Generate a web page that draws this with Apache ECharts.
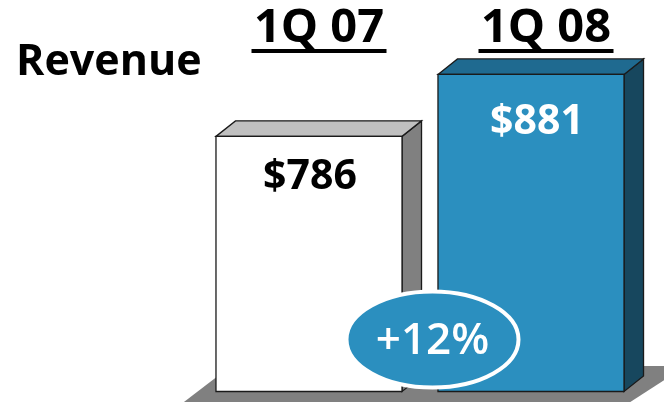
<!DOCTYPE html>
<html>
<head>
<meta charset="utf-8">
<script src="https://cdn.jsdelivr.net/npm/echarts@6/dist/echarts.min.js"></script>
<style>
html,body{margin:0;padding:0;background:#fff;}
#c{width:664px;height:402px;}
</style>
</head>
<body>
<div id="c"></div>
<script>
const categories = ['1Q 07', '1Q 08'];
const revenue = [786, 881];
const valueLabels = ['$786', '$881'];
const growthLabel = '+12%';
const title = 'Revenue';

const Y_MIN = 395, Y_MAX = 995;
const FONT = '"Open Sans", "Noto Sans", sans-serif';
const palette = [
  { front: '#ffffff', top: '#c0c0c0', side: '#808080', text: '#000000' },
  { front: '#2b8fbf', top: '#1f6a90', side: '#17475e', text: '#ffffff' }
];

const chart = echarts.init(document.getElementById('c'), null, { renderer: 'canvas' });

function renderBar(params, api) {
  const i = params.dataIndex;
  const top = api.coord([api.value(0), api.value(1)]);
  const base = api.coord([api.value(0), Y_MIN]);
  const bw = api.size([1, 0])[0] * 0.838;
  const l = top[0] - bw / 2, r = top[0] + bw / 2, t = top[1], b = base[1];
  const dx = 19.5, dy = -15.5;
  const c = palette[i];
  const edge = { stroke: '#1a1a1a', lineWidth: 1.3 };
  const children = [];
  if (i === 0) {
    children.push({
      type: 'polygon',
      shape: { points: [[l - 34, b + 12], [l + 15, b - 25.5], [l + 470, b - 25.5], [l + 412, b + 12]] },
      style: { fill: '#808080' }
    });
  }
  children.push(
    { type: 'polygon', shape: { points: [[r, t], [r + dx, t + dy], [r + dx, b + dy], [r, b]] },
      style: Object.assign({ fill: c.side }, edge) },
    { type: 'polygon', shape: { points: [[l, t], [l + dx, t + dy], [r + dx, t + dy], [r, t]] },
      style: Object.assign({ fill: c.top }, edge) },
    { type: 'rect', shape: { x: l, y: t, width: bw, height: b - t },
      style: Object.assign({ fill: c.front }, edge) },
    { type: 'text', x: top[0] + (i === 0 ? 1 : 6), y: t + (i === 0 ? 41 : 48),
      style: { text: valueLabels[i], fill: c.text, font: 'bold 41px ' + FONT, textAlign: 'center', textVerticalAlign: 'middle' } }
  );
  const hx = top[0] + (i === 0 ? 10 : 15);
  children.push(
    { type: 'text', x: hx, y: 29,
      style: { text: categories[i], fill: '#000', font: 'bold 47px ' + FONT, textAlign: 'center', textVerticalAlign: 'middle' } },
    { type: 'rect', shape: { x: hx - 67.5, y: 49, width: 135, height: 4 }, style: { fill: '#000' } }
  );
  return { type: 'group', children: children };
}

chart.setOption({
  animation: false,
  grid: { left: 198, right: 22, top: 0, bottom: 10.5, containLabel: false },
  xAxis: { type: 'category', data: categories, show: false, boundaryGap: true },
  yAxis: { type: 'value', min: Y_MIN, max: Y_MAX, show: false },
  series: [{
    type: 'custom',
    z: 2,
    renderItem: renderBar,
    data: revenue.map((v, i) => [i, v]),
    clip: false
  }],
  graphic: [
    { type: 'text', left: 16, top: 41, z: 100,
      style: { text: title, fill: '#000', font: 'bold 43px ' + FONT } },
    { type: 'ellipse', z: 100, shape: { cx: 432.5, cy: 339.5, rx: 86, ry: 48 },
      style: { fill: '#2b8fbf', stroke: '#ffffff', lineWidth: 4 } },
    { type: 'text', z: 101, x: 432.5, y: 341,
      style: { text: growthLabel, fill: '#fff', font: '600 44px ' + FONT, textAlign: 'center', textVerticalAlign: 'middle' } }
  ]
});
</script>
</body>
</html>
